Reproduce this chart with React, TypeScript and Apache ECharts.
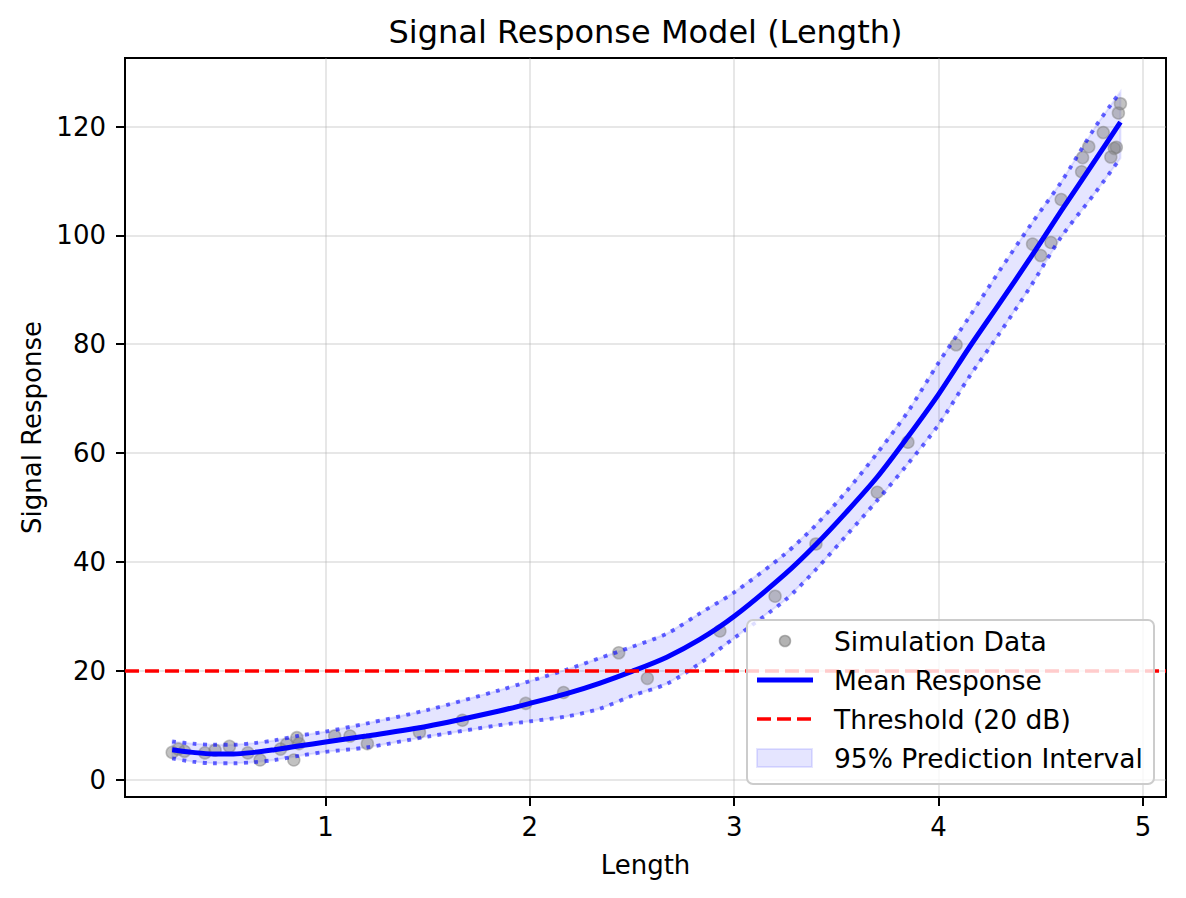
import React, { useEffect, useRef } from "react";
import * as echarts from "echarts";

const TITLE = "Signal Response Model (Length)";
const X_LABEL = "Length";
const Y_LABEL = "Signal Response";
const X_TICKS = [1, 2, 3, 4, 5];
const Y_TICKS = [0, 20, 40, 60, 80, 100, 120];
const X_MIN = 0.019;
const X_MAX = 5.113;
const Y_MIN = -3.2;
const Y_MAX = 132.6;
const THRESHOLD = 20;

const LEGEND_LABELS = [
  "Simulation Data",
  "Mean Response",
  "Threshold (20 dB)",
  "95% Prediction Interval",
];

// simulation points
const simX = [
  0.25, 0.28, 0.31, 0.41, 0.46, 0.53, 0.62, 0.68, 0.78, 0.81, 0.845, 0.86, 0.87,
  1.045, 1.12, 1.205, 1.46, 1.67, 1.98, 2.165, 2.435, 2.575, 2.93, 3.2, 3.4, 3.7,
  3.85, 4.086, 4.46, 4.5, 4.55, 4.6, 4.7, 4.705, 4.735, 4.806, 4.843, 4.86, 4.87,
  4.88, 4.89,
];
const simY = [
  5.0, 5.6, 5.2, 4.9, 5.4, 6.1, 4.9, 3.6, 5.6, 6.5, 3.6, 7.7, 6.6, 8.0, 8.0, 6.6,
  8.7, 10.9, 14.0, 16.0, 23.3, 18.6, 27.3, 33.7, 43.3, 52.8, 62.0, 79.9, 98.4,
  96.3, 98.7, 106.6, 111.7, 114.3, 116.3, 118.9, 114.4, 116.0, 116.2, 122.5, 124.2,
];

// model curve and its 95% prediction interval
const curveX = [
  0.25, 0.35, 0.45, 0.55, 0.65, 0.75, 0.875, 1.0, 1.2, 1.5, 1.85, 2.0, 2.18, 2.34,
  2.5, 2.67, 2.83, 3.0, 3.25, 3.4, 3.55, 3.7, 3.85, 4.0, 4.15, 4.3, 4.45, 4.6,
  4.77, 4.89,
];
const meanY = [
  5.5, 5.0, 4.7, 4.7, 5.0, 5.5, 6.2, 6.9, 8.0, 9.8, 12.6, 14.0, 15.8, 17.7, 19.9,
  22.5, 25.7, 30.0, 37.8, 43.2, 49.2, 55.6, 63.0, 70.8, 79.4, 87.6, 95.9, 104.5,
  114.0, 120.8,
];
const upperY = [
  7.0, 6.6, 6.4, 6.4, 6.7, 7.2, 8.1, 8.8, 10.3, 12.8, 16.4, 18.1, 20.2, 22.3,
  24.4, 26.8, 30.5, 34.4, 41.5, 46.8, 53.0, 60.0, 67.6, 76.6, 85.0, 93.6, 101.9,
  109.8, 120.1, 126.4,
];
const lowerY = [
  3.9, 3.3, 3.0, 3.0, 3.2, 3.6, 4.4, 5.1, 5.9, 7.9, 10.0, 10.7, 11.6, 13.0, 15.4,
  17.6, 21.3, 26.0, 33.0, 38.6, 44.9, 51.3, 58.0, 65.2, 74.0, 82.1, 90.6, 99.7,
  108.0, 114.2,
];

const FONT = "DejaVu Sans";
const BLUE = "#0000ff";
const DOT_BLUE = "rgba(0,0,255,0.6)";
const FILL_BLUE = "rgba(0,0,255,0.1)";
const POINT_GRAY = "rgba(128,128,128,0.6)";
const GRID_COLOR = "rgba(176,176,176,0.3)";

export default function App() {
  const ref = useRef<HTMLDivElement>(null);

  useEffect(() => {
    if (!ref.current) return;
    const chart = echarts.init(ref.current, null, { renderer: "svg" });

    const pts = simX.map((x, i) => [x, simY[i]]);
    const mean = curveX.map((x, i) => [x, meanY[i]]);
    const upper = curveX.map((x, i) => [x, upperY[i]]);
    const lower = curveX.map((x, i) => [x, lowerY[i]]);

    const axisText = { fontSize: 26, fontFamily: FONT, color: "#000" };
    const rowY = [641, 680, 719, 758];

    const dotted = {
      color: DOT_BLUE,
      width: 3.9,
      type: [3.9, 6.4],
      cap: "butt",
    };

    chart.setOption({
      animation: false,
      grid: {
        left: 125,
        top: 58,
        width: 1041,
        height: 739,
        show: true,
        borderColor: "#000",
        borderWidth: 2,
        backgroundColor: "transparent",
        containLabel: false,
      },
      xAxis: {
        type: "value",
        min: X_MIN,
        max: X_MAX,
        splitNumber: 5,
        minInterval: 1,
        maxInterval: 1,
        axisLine: { show: true, onZero: false, lineStyle: { color: "#000", width: 2 } },
        axisTick: {
          show: true,
          customValues: X_TICKS,
          length: 9,
          lineStyle: { color: "#000", width: 2 },
        },
        axisLabel: { ...axisText, customValues: X_TICKS, margin: 17 },
        splitLine: { show: true, lineStyle: { color: GRID_COLOR, width: 2 } },
      },
      yAxis: {
        type: "value",
        min: Y_MIN,
        max: Y_MAX,
        splitNumber: 7,
        minInterval: 20,
        maxInterval: 20,
        axisLine: { show: true, onZero: false, lineStyle: { color: "#000", width: 2 } },
        axisTick: {
          show: true,
          customValues: Y_TICKS,
          length: 9,
          lineStyle: { color: "#000", width: 2 },
        },
        axisLabel: { ...axisText, customValues: Y_TICKS, margin: 19 },
        splitLine: { show: true, lineStyle: { color: GRID_COLOR, width: 2 } },
      },
      series: [
        {
          name: LEGEND_LABELS[0],
          type: "scatter",
          data: pts,
          symbol: "circle",
          symbolSize: 12,
          itemStyle: { color: POINT_GRAY, borderColor: POINT_GRAY, borderWidth: 1.5 },
          silent: true,
        },
        {
          name: LEGEND_LABELS[1],
          type: "line",
          data: mean,
          showSymbol: false,
          symbol: "none",
          smooth: 0.3,
          lineStyle: { color: BLUE, width: 5 },
          silent: true,
          markLine: {
            silent: true,
            symbol: ["none", "none"],
            label: { show: false },
            lineStyle: { color: "#ff0000", width: 3.5, type: [14, 6] },
            data: [{ yAxis: THRESHOLD }],
          },
        },
        {
          name: "upper",
          type: "line",
          data: upper,
          showSymbol: false,
          symbol: "none",
          smooth: 0.3,
          lineStyle: dotted,
          silent: true,
        },
        {
          name: "lower",
          type: "line",
          data: lower,
          showSymbol: false,
          symbol: "none",
          smooth: 0.3,
          lineStyle: dotted,
          silent: true,
        },
        {
          name: LEGEND_LABELS[3],
          type: "custom",
          coordinateSystem: "cartesian2d",
          data: [[curveX[0], lowerY[0]]],
          silent: true,
          renderItem: (_params: any, api: any) => {
            const poly: number[][] = [];
            for (let i = 0; i < curveX.length; i++) {
              poly.push(api.coord([curveX[i], upperY[i]]));
            }
            for (let i = curveX.length - 1; i >= 0; i--) {
              poly.push(api.coord([curveX[i], lowerY[i]]));
            }
            return {
              type: "polygon",
              shape: { points: poly },
              style: { fill: FILL_BLUE, stroke: FILL_BLUE, lineWidth: 2 },
            };
          },
        },
      ],
      graphic: [
        {
          type: "text",
          x: 645.5,
          y: 32,
          style: {
            text: TITLE,
            fontSize: 32,
            fontFamily: FONT,
            fill: "#000",
            align: "center",
            verticalAlign: "middle",
          },
        },
        {
          type: "text",
          x: 645.5,
          y: 865,
          style: {
            text: X_LABEL,
            fontSize: 26,
            fontFamily: FONT,
            fill: "#000",
            align: "center",
            verticalAlign: "middle",
          },
        },
        {
          type: "text",
          x: 32,
          y: 427.5,
          rotation: Math.PI / 2,
          style: {
            text: Y_LABEL,
            fontSize: 26,
            fontFamily: FONT,
            fill: "#000",
            align: "center",
            verticalAlign: "middle",
          },
        },
        {
          type: "group",
          z: 100,
          children: [
            {
              type: "rect",
              z: 100,
              shape: { x: 747, y: 620, width: 407, height: 164, r: 6 },
              style: { fill: "rgba(255,255,255,0.8)", stroke: "#cccccc", lineWidth: 2 },
            },
            {
              type: "circle",
              z: 101,
              shape: { cx: 785, cy: rowY[0], r: 5.5 },
              style: { fill: POINT_GRAY, stroke: POINT_GRAY, lineWidth: 1.5 },
            },
            {
              type: "line",
              z: 101,
              shape: { x1: 757, y1: rowY[1], x2: 813, y2: rowY[1] },
              style: { stroke: BLUE, lineWidth: 5 },
            },
            {
              type: "line",
              z: 101,
              shape: { x1: 757, y1: rowY[2], x2: 813, y2: rowY[2] },
              style: { stroke: "#ff0000", lineWidth: 3.5, lineDash: [14, 6] },
            },
            {
              type: "rect",
              z: 101,
              shape: { x: 757, y: rowY[3] - 9, width: 55, height: 18 },
              style: { fill: FILL_BLUE, stroke: FILL_BLUE, lineWidth: 2 },
            },
            ...LEGEND_LABELS.map((t, i) => ({
              type: "text",
              z: 101,
              x: 834,
              y: rowY[i],
              style: {
                text: t,
                fontSize: 26.5,
                fontFamily: FONT,
                fill: "#000",
                align: "left",
                verticalAlign: "middle",
              },
            })),
          ],
        },
      ],
    });

    return () => chart.dispose();
  }, []);

  return (
    <div
      ref={ref}
      style={{ position: "fixed", left: 0, top: 0, width: 1186, height: 898, background: "#fff" }}
    />
  );
}
